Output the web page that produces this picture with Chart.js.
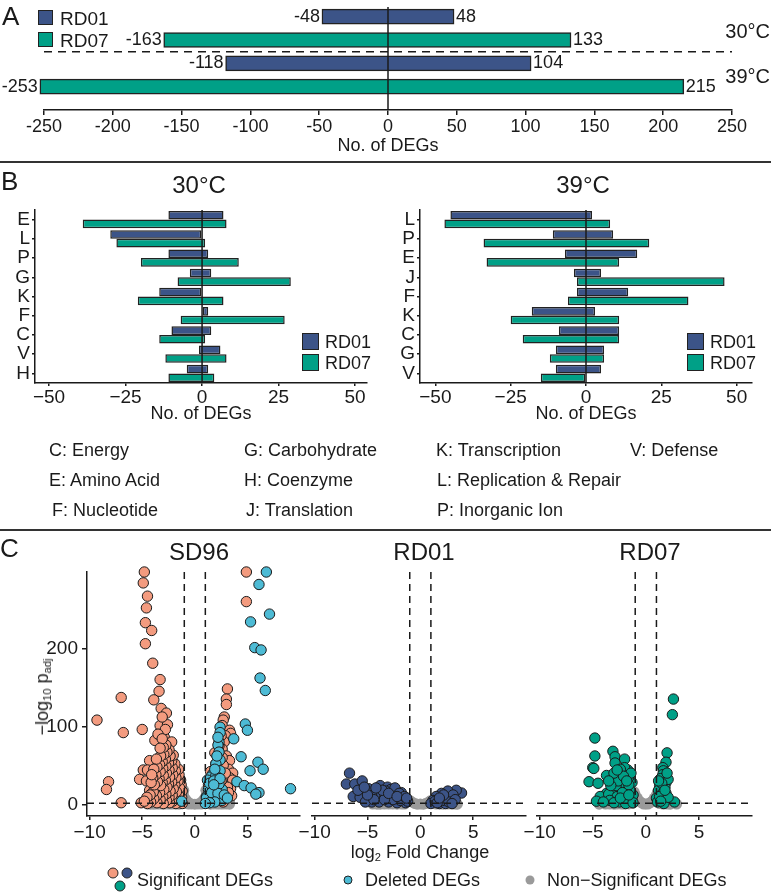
<!DOCTYPE html>
<html>
<head>
<meta charset="utf-8">
<script src="https://cdn.jsdelivr.net/npm/chart.js@4.4.1/dist/chart.umd.min.js"></script>
<style>
  body { margin: 0; background: #fff; }
  #fig { position: relative; width: 771px; height: 892px; overflow: hidden; font-family: "Liberation Sans", Arial, sans-serif; color: #1a1a1a; }
  #fig canvas { position: absolute; left: 0; top: 0; }
  .t { position: absolute; white-space: nowrap; line-height: 1; transform: translateY(-50%); }
  .c { transform: translate(-50%, -50%); }
  .rot { transform: translate(-50%, -50%) rotate(-90deg); }
  .sw { position: absolute; box-sizing: border-box; border: 1.5px solid #222; }
  .rule { position: absolute; left: 0; width: 771px; height: 2px; background: #333; }
  .dot { position: absolute; border-radius: 50%; box-sizing: border-box; transform: translate(-50%, -50%); }
  sub { font-size: 0.62em; vertical-align: -0.3em; line-height: 0; }
</style>
</head>
<body>
<div id="fig">
  <canvas id="cA" width="771" height="892"></canvas>
  <canvas id="cB30" width="771" height="892"></canvas>
  <canvas id="cB39" width="771" height="892"></canvas>
  <canvas id="cSD96" width="771" height="892"></canvas>
  <canvas id="cRD01" width="771" height="892"></canvas>
  <canvas id="cRD07" width="771" height="892"></canvas>

  <!-- panel letters and separators -->
  <div class="t" style="left:2px;top:16px;font-size:26px">A</div>
  <div class="t" style="left:1px;top:181px;font-size:26px">B</div>
  <div class="t" style="left:0px;top:548px;font-size:26px">C</div>
  <div class="rule" style="top:161px"></div>
  <div class="rule" style="top:529px"></div>

  <!-- panel A legend + temperature labels -->
  <div class="sw" style="left:38px;top:10px;width:15px;height:15px;background:#3C5488"></div>
  <div class="sw" style="left:38px;top:32px;width:15px;height:15px;background:#00A087"></div>
  <div class="t" style="left:60px;top:18px;font-size:19px">RD01</div>
  <div class="t" style="left:60px;top:40px;font-size:19px">RD07</div>
  <div class="t" style="right:1px;top:31px;font-size:20px">30°C</div>
  <div class="t" style="right:1px;top:76px;font-size:20px">39°C</div>

  <!-- panel B titles + legends -->
  <div class="t c" style="left:199px;top:185px;font-size:24px">30°C</div>
  <div class="t c" style="left:583px;top:185px;font-size:24px">39°C</div>
  <div class="sw" style="left:302px;top:333px;width:17px;height:17px;background:#3C5488"></div>
  <div class="sw" style="left:302px;top:354px;width:17px;height:17px;background:#00A087"></div>
  <div class="t" style="left:325px;top:342px;font-size:18px">RD01</div>
  <div class="t" style="left:325px;top:363px;font-size:18px">RD07</div>
  <div class="sw" style="left:687px;top:333px;width:17px;height:17px;background:#3C5488"></div>
  <div class="sw" style="left:687px;top:354px;width:17px;height:17px;background:#00A087"></div>
  <div class="t" style="left:710px;top:342px;font-size:18px">RD01</div>
  <div class="t" style="left:710px;top:363px;font-size:18px">RD07</div>

  <div class="t" style="left:49px;top:450px;font-size:18px">C: Energy</div>
  <div class="t" style="left:49px;top:480px;font-size:18px">E: Amino Acid</div>
  <div class="t" style="left:52px;top:510px;font-size:18px">F: Nucleotide</div>
  <div class="t" style="left:244px;top:450px;font-size:18px">G: Carbohydrate</div>
  <div class="t" style="left:244px;top:480px;font-size:18px">H: Coenzyme</div>
  <div class="t" style="left:246px;top:510px;font-size:18px">J: Translation</div>
  <div class="t" style="left:436px;top:450px;font-size:18px">K: Transcription</div>
  <div class="t" style="left:437px;top:480px;font-size:18px">L: Replication &amp; Repair</div>
  <div class="t" style="left:437px;top:510px;font-size:18px">P: Inorganic Ion</div>
  <div class="t" style="left:630px;top:450px;font-size:18px">V: Defense</div>

  <!-- panel C titles, axis titles, legend -->
  <div class="t c" style="left:199px;top:552px;font-size:24px">SD96</div>
  <div class="t c" style="left:424px;top:552px;font-size:24px">RD01</div>
  <div class="t c" style="left:650px;top:552px;font-size:24px">RD07</div>
  <div class="t rot" style="left:42px;top:697px;font-size:18px">&minus;log<sub>10</sub> p<sub>adj</sub></div>
  <div class="t c" style="left:420px;top:852px;font-size:18px">log<sub>2</sub> Fold Change</div>

  <div class="dot" style="left:113px;top:873px;width:11px;height:11px;background:#F39B7F;border:1px solid #222"></div>
  <div class="dot" style="left:127px;top:873px;width:11px;height:11px;background:#3C5488;border:1px solid #222"></div>
  <div class="dot" style="left:120px;top:886px;width:11px;height:11px;background:#00A087;border:1px solid #222"></div>
  <div class="t" style="left:137px;top:880px;font-size:18px">Significant DEGs</div>
  <div class="dot" style="left:348px;top:880px;width:9px;height:9px;background:#4DBBD5;border:1px solid #222"></div>
  <div class="t" style="left:365px;top:880px;font-size:18px">Deleted DEGs</div>
  <div class="dot" style="left:530px;top:880px;width:9px;height:9px;background:#9a9a9a"></div>
  <div class="t" style="left:547px;top:880px;font-size:18px">Non&minus;Significant DEGs</div>
</div>

<script>
const FONT = '"Liberation Sans", Arial, sans-serif';
const INK = '#1a1a1a';
const NAVY = '#3C5488', TEAL = '#00A087', SALMON = '#F39B7F', CYAN = '#4DBBD5', GREY = '#9a9a9a';

// --- PANEL A: total DEGs (down / up) ---
const aStrains = ['RD01', 'RD07'];
const aTemps = ['30°C', '39°C'];
const aDown30 = [-48, -163];
const aUp30 = [48, 133];
const aDown39 = [-118, -253];
const aUp39 = [104, 215];
const aTicks = [-250, -200, -150, -100, -50, 0, 50, 100, 150, 200, 250];

// --- PANEL B: COG categories ---
const cats30 = ['E', 'L', 'P', 'G', 'K', 'F', 'C', 'V', 'H'];
const rd01Down30 = [-11, -30, -11, -4, -14, 0, -10, -1, -5];
const rd01Up30 = [7, 0, 2, 3, 0, 2, 3, 6, 2];
const rd07Down30 = [-39, -28, -20, -8, -21, -7, -14, -12, -11];
const rd07Up30 = [8, 1, 12, 29, 7, 27, 1, 8, 4];

const cats39 = ['L', 'P', 'E', 'J', 'F', 'K', 'C', 'G', 'V'];
const rd01Down39 = [-45, -11, -7, -4, -3, -18, -9, -10, -10];
const rd01Up39 = [2, 9, 17, 5, 14, 3, 11, 6, 5];
const rd07Down39 = [-47, -34, -33, -3, -6, -25, -21, -12, -15];
const rd07Up39 = [8, 21, 11, 46, 34, 11, 11, 6, 0];
const bTicks = [-50, -25, 0, 25, 50];

// --- PANEL C: volcano plots [log2FC, -log10 padj] ---
const sd96Sig = [
  [-4.8,298],[-4.9,284],[-4.5,267],[-4.6,252],[-4.7,233],[-4.1,223],[-4.7,206],[-4.0,181],[-3.3,160],[-3.4,145],
  [-3.9,134],[-7.0,137],[-9.3,108],[-6.8,92],[-5.0,96],[-3.2,123],[-2.7,117],[-3.3,101],[-2.6,102],[-2.9,86],
  [-2.2,80],[-3.8,82],[-4.3,56],[-4.9,44],[-4.5,44],[-5.25,32],[-4.6,30],[-8.2,29],[-8.4,19],[-7.0,2],[-5.1,2],
  [-4.3,18],[-3.6,20],[-3.1,112],[-2.8,96],[-3.5,90],
  [-1.2,1],[-1.25,9],[-1.2,17],[-1.3,25],[-1.35,31],
  [-1.5,3],[-1.55,12],[-1.45,21],[-1.6,30],[-1.5,38],[-1.55,45],
  [-1.8,1],[-1.85,8],[-1.75,16],[-1.9,25],[-1.8,34],[-1.85,43],[-1.9,52],
  [-2.1,4],[-2.15,12],[-2.05,20],[-2.2,29],[-2.1,38],[-2.15,47],[-2.2,56],[-2.05,63],
  [-2.4,2],[-2.45,9],[-2.35,17],[-2.5,26],[-2.4,35],[-2.45,44],[-2.5,53],[-2.35,62],[-2.45,70],
  [-2.7,5],[-2.75,13],[-2.65,22],[-2.8,31],[-2.7,40],[-2.75,49],[-2.8,58],[-2.65,67],[-2.75,76],
  [-3.0,1],[-3.05,10],[-2.95,19],[-3.1,28],[-3.0,37],[-3.05,46],[-3.1,55],[-2.95,64],[-3.0,73],[-3.1,84],
  [-3.3,6],[-3.35,15],[-3.25,24],[-3.4,33],[-3.3,42],[-3.35,51],[-3.25,62],[-3.3,72],
  [-3.6,2],[-3.65,11],[-3.55,29],[-3.7,38],[-3.6,48],[-3.65,58],
  [-3.9,7],[-3.95,16],[-3.85,25],[-4.0,34],[-3.9,45],
  [-4.2,3],[-4.25,12],[-4.15,28],[-4.1,38],[-4.5,1],[-4.55,9],[-4.8,4],
  [4.9,298],[4.9,260],[3.1,148],[3.0,135],[3.0,128],[2.8,112],[2.7,108],[2.6,101],[3.3,95],[3.4,91],
  [2.9,88],[2.8,80],[2.6,71],[3.0,62],[3.3,56],[3.2,45],[3.6,40],[3.3,34],[3.6,31],[3.4,20],
  [3.5,11],[3.1,22],[2.9,8],[2.7,3],[2.5,88],[2.3,75],[2.5,30],[2.2,18],[1.9,66],[2.0,52],
  [1.5,42],[1.3,25],[1.7,35],[2.7,50],[2.9,40],[3.2,15],[2.6,60]
];
const sd96Del = [
  [6.8,298],[6.1,282],[7.1,244],[5.3,234],[5.7,201],[6.3,198],[6.2,162],[6.7,146],[4.8,103],[5.0,95],
  [3.7,84],[4.4,61],[6.0,54],[6.5,45],[5.25,43],[9.1,20],[4.0,29],[4.7,24],[5.35,21],[6.1,15],[5.8,13],
  [-1.25,4],
  [2.4,99],[2.4,92],[2.3,80],[2.2,76],[2.3,67],[2.4,57],[2.0,52],[2.4,43],[1.7,39],[1.5,35],
  [2.0,37],[1.2,31],[1.3,19],[1.5,11],[1.1,10],[2.0,10],[2.6,19],[1.7,22],[2.3,26],[1.2,5],
  [2.6,5],[1.1,8],[1.4,27],[1.8,30],[2.1,62],[1.9,45],[1.6,15],[2.2,14],[1.9,3],[1.4,2],
  [2.8,12],[2.4,33],[3.1,8],[1.0,1],[2.2,86],[1.8,25]
];
const sd96Ns = [
  [-1.1,13],[-1.0,9],[-0.85,6],[-0.7,3.5],[-0.5,1.5],[-0.3,0.5],[0,0.2],[0.3,0.5],[0.5,1.5],[0.7,3.5],
  [0.85,6],[1.0,9],[1.1,13],[-0.9,1],[0.9,1],[-1.3,1],[1.3,1],[-1.8,0.5],[-2.4,0.3],[-3.0,0.2],
  [-3.6,0.3],[-4.2,0.2],[1.8,0.5],[2.4,0.3],[3.0,0.5],[3.3,3],[-1.05,18],[1.05,18],
  [-0.6,0.3],[0.6,0.3],[-1.5,0.2],[1.5,0.2],[-2.1,0.4],[-2.7,0.3],[-3.3,0.4],[-3.9,0.2],[-4.5,0.4],
  [2.1,0.3],[2.7,0.4],[3.3,0.2]
];
const rd01Sig = [
  [-6.7,40],[-7.0,26],[-6.2,26],[-5.5,30],[-6.35,10],[-5.7,9],[-4.9,20],[-4.6,3],[-3.8,24],[-3.1,22],
  [-2.8,19],[-2.3,17],[-1.8,15],[-4.1,15],[-3.5,11],[-2.7,11],[-2.0,9],[-1.6,7],[-5.2,3],[-3.9,3],
  [-3.0,3],[-2.2,2],[-1.4,2],[-4.3,12],[-4.6,11],[-3.3,17],[-2.5,12],[-5.9,18],[-1.2,4],[-1.9,5],
  [-2.6,6],[-3.4,6],[-4.4,6],[-5.0,12],[-3.6,18],[-2.4,21],[-2.0,14],[-1.5,10],[-5.3,22],[-4.2,21],
  [-3.0,14],[-2.2,10],[-1.3,8],
  [3.9,14.5],[3.4,18],[2.6,17],[2.0,14],[1.5,10],[1.2,5],[2.3,8],[2.9,8],[1.8,1],[1.0,1],
  [2.4,1],[2.1,5],[1.4,4],[3.1,12],[2.7,3],[1.6,2],[3.3,6],[2.2,12],[1.8,8],[3.0,1]
];
const rd01Ns = [
  [-1.0,5],[-0.8,3],[-0.5,1],[0,0.3],[0.5,1],[0.8,3],[1.0,5],[-1.5,0.3],[-2.2,0.2],[-3.0,0.3],
  [-3.8,0.2],[-4.5,0.3],[1.5,0.3],[2.2,0.2],[3.0,0.3],[3.5,0.2],[-0.3,0.2],[0.3,0.2],
  [-1.8,0.4],[-2.6,0.3],[-3.4,0.4],[-4.1,0.2],[1.9,0.3],[2.6,0.4],[3.3,0.3]
];
const rd07Sig = [
  [2.6,135],[2.5,115],[-4.8,85],[-4.8,62],[-5.0,47],[-4.9,46],[-5.35,29],[-4.5,27],[-3.1,68],[-2.9,61],
  [-2.0,58],[-2.9,53],[-3.7,37],[-3.2,31],[-1.7,44],[-1.3,28],[-2.4,37],[-1.6,35],[-1.9,22],[-2.5,22],
  [-3.1,18],[-3.7,14],[-4.3,10],[-4.65,4],[-3.5,13],[-2.7,10],[-1.9,8],[-1.3,6],[-3.4,5],[-2.5,3],
  [-1.9,1],[-1.2,12],[-1.5,18],[-2.2,28],[-2.8,24],[-2.0,47],[-2.4,45],[-2.6,30],[-3.0,40],[-1.4,40],
  [-4.0,3],[-3.0,2],[-1.2,2],[-2.2,15],[-3.3,24],[-1.6,25],[-2.1,36],[-2.7,44],[-3.5,30],[-1.8,30],
  [-2.4,8],[-1.6,12],
  [2.0,66],[1.9,54],[1.6,47],[1.65,43],[1.6,38],[1.4,33],[1.3,24],[1.2,18],[1.5,13],[1.9,14],
  [1.0,8],[1.6,6],[2.7,3],[1.9,28],[1.8,22],[1.1,3],[2.1,32],[1.3,10],[1.7,1],[2.1,9],
  [1.5,27],[1.2,30],[2.0,40],[1.8,18],[1.4,4]
];
const rd07Ns = [
  [-1.1,16],[-1.0,12],[-0.8,8],[-0.6,4],[-0.4,2],[0,0.5],[0.4,2],[0.6,4],[0.8,8],[1.0,12],
  [1.1,16],[-1.6,0.5],[-2.3,0.3],[-3.0,0.2],[-3.8,0.3],[-4.4,0.2],[1.6,0.3],[2.3,0.2],[2.9,0.3],
  [-0.2,0.3],[0.2,0.3],[-1.3,1],[1.3,1],[-2.0,0.4],[-2.7,0.3],[-3.4,0.4],[2.0,0.4]
];
const cTicksX = [-10, -5, 0, 5];
const cTicksY = [0, 100, 200];

// --- HELPERS ---
const minus = v => String(v).replace('-', '\u2212');

// fix the size of an axis box so the plot area lands where we want it
function fit(size) {
  return s => {
    if (s.isHorizontal()) s.height = size; else s.width = size;
    s.paddingLeft = s.paddingRight = s.paddingTop = s.paddingBottom = 0;
  };
}
function pad(area, yW, xH) {
  return { left: area.left - yW, top: area.top, right: 771 - area.right, bottom: 892 - area.bottom - xH };
}
function linearAxis(o) {
  return {
    type: 'linear', min: o.min, max: o.max, display: o.display !== false, offset: false,
    afterBuildTicks: s => { if (o.ticks) s.ticks = o.ticks.map(v => ({ value: v })); },
    afterFit: fit(o.size || 0),
    border: { display: true, color: INK, width: 1.5 },
    grid: { drawOnChartArea: false, drawTicks: true, tickLength: o.tl, color: INK, lineWidth: 1.5 },
    ticks: { color: INK, font: { family: FONT, size: o.font || 19 }, padding: o.pad, autoSkip: false, maxRotation: 0, callback: o.fmt },
    title: o.title
      ? { display: true, text: o.title, color: INK, font: { family: FONT, size: 18 }, padding: { top: 0, bottom: 4 } }
      : { display: false }
  };
}
const base = {
  responsive: false, animation: false, events: [], devicePixelRatio: 1,
  plugins: { legend: { display: false }, tooltip: { enabled: false } }
};

// --- PANEL A ---
function aData(s) {
  const down = [aDown30, aDown39], up = [aUp30, aUp39];
  return aTemps.map((t, ti) => ({ y: ti * aStrains.length + s, x: [down[ti][s], up[ti][s]] }));
}
const aArea = { left: 44, right: 732, top: 5, bottom: 110 };
const aDecor = {
  id: 'aDecor',
  afterDatasetsDraw(chart) {
    const { ctx, chartArea, scales: { x, y } } = chart;
    ctx.save();
    ctx.strokeStyle = INK;
    ctx.lineWidth = 1.5;
    const x0 = x.getPixelForValue(0);
    ctx.beginPath(); ctx.moveTo(x0, chartArea.top + 2); ctx.lineTo(x0, chartArea.bottom); ctx.stroke();
    const yd = y.getPixelForValue(1.5);
    ctx.setLineDash([8, 6]);
    ctx.beginPath(); ctx.moveTo(chartArea.left, yd); ctx.lineTo(chartArea.right, yd); ctx.stroke();
    ctx.setLineDash([]);
    ctx.font = '18px ' + FONT;
    ctx.fillStyle = INK;
    ctx.textBaseline = 'middle';
    chart.data.datasets.forEach((ds, di) => {
      chart.getDatasetMeta(di).data.forEach((bar, i) => {
        const [lo, hi] = ds.data[i].x;
        ctx.textAlign = 'right';
        ctx.fillText(String(lo), x.getPixelForValue(lo) - 2, bar.y);
        ctx.textAlign = 'left';
        ctx.fillText(String(hi), x.getPixelForValue(hi) + 2, bar.y);
      });
    });
    ctx.restore();
  }
};
new Chart(document.getElementById('cA'), {
  type: 'bar',
  data: {
    datasets: aStrains.map((name, s) => ({
      label: name, data: aData(s), backgroundColor: [NAVY, TEAL][s],
      borderColor: '#222', borderWidth: 1.5, borderSkipped: false,
      barThickness: 15, grouped: false, clip: false
    }))
  },
  options: Object.assign({}, base, {
    indexAxis: 'y',
    layout: { padding: pad(aArea, 0, 51) },
    scales: {
      x: linearAxis({ min: -250, max: 250, ticks: aTicks, tl: 5, pad: 1, font: 18, size: 51, title: 'No. of DEGs', fmt: v => String(v) }),
      y: { type: 'linear', min: -0.5, max: 4, reverse: true, offset: false, display: false }
    }
  }),
  plugins: [aDecor]
});

// --- PANEL B ---
const zeroLine = {
  id: 'zeroLine',
  afterDatasetsDraw(chart) {
    const { ctx, chartArea, scales: { x } } = chart;
    const x0 = x.getPixelForValue(0);
    ctx.save();
    ctx.strokeStyle = INK; ctx.lineWidth = 1.5;
    ctx.beginPath(); ctx.moveTo(x0, chartArea.top); ctx.lineTo(x0, chartArea.bottom); ctx.stroke();
    ctx.restore();
  }
};
function cogChart(id, area, cats, d1, u1, d7, u7, min, max) {
  const pairs = (d, u) => d.map((v, i) => [v, u[i]]);
  const bar = { borderColor: '#222', borderWidth: 1.5, borderSkipped: false, categoryPercentage: 0.9, barPercentage: 1 };
  new Chart(document.getElementById(id), {
    type: 'bar',
    data: {
      labels: cats,
      datasets: [
        Object.assign({ label: 'RD01', data: pairs(d1, u1), backgroundColor: NAVY }, bar),
        Object.assign({ label: 'RD07', data: pairs(d7, u7), backgroundColor: TEAL }, bar)
      ]
    },
    options: Object.assign({}, base, {
      indexAxis: 'y',
      layout: { padding: pad(area, 30, 46) },
      scales: {
        x: linearAxis({ min, max, ticks: bTicks, tl: 3, pad: 0, size: 46, title: 'No. of DEGs', fmt: minus }),
        y: {
          type: 'category', afterFit: fit(30),
          border: { display: true, color: INK, width: 1.5 },
          grid: { offset: false, drawOnChartArea: false, drawTicks: true, tickLength: 3, color: INK, lineWidth: 1.5 },
          ticks: { color: INK, font: { family: FONT, size: 19 }, padding: 2, autoSkip: false }
        }
      }
    }),
    plugins: [zeroLine]
  });
}
cogChart('cB30', { left: 35, right: 367, top: 210, bottom: 383 }, cats30, rd01Down30, rd01Up30, rd07Down30, rd07Up30, -54.6, 53.9);
cogChart('cB39', { left: 420, right: 752, top: 210, bottom: 383 }, cats39, rd01Down39, rd01Up39, rd07Down39, rd07Up39, -55.1, 55.1);

// --- PANEL C ---
const cutoffs = {
  id: 'cutoffs',
  afterDatasetsDraw(chart) {
    const { ctx, chartArea, scales: { x, y } } = chart;
    ctx.save();
    ctx.strokeStyle = INK; ctx.lineWidth = 1.5;
    ctx.setLineDash([7, 5]);
    [-1, 1].forEach(v => {
      const px = x.getPixelForValue(v);
      ctx.beginPath(); ctx.moveTo(px, chartArea.top); ctx.lineTo(px, chartArea.bottom); ctx.stroke();
    });
    const py = y.getPixelForValue(1.3);
    ctx.beginPath(); ctx.moveTo(chartArea.left, py); ctx.lineTo(chartArea.right, py); ctx.stroke();
    ctx.restore();
  }
};
const pts = arr => arr.map(p => ({ x: p[0], y: p[1] }));
function volcano(id, area, sig, sigColor, del, ns, showY) {
  const dot = { pointRadius: 5.2, borderWidth: 1, borderColor: '#1a1a1a', clip: false };
  const datasets = [];
  if (del) datasets.push(Object.assign({ label: 'Deleted DEGs', data: pts(del), backgroundColor: CYAN }, dot));
  datasets.push(Object.assign({ label: 'Significant DEGs', data: pts(sig), backgroundColor: sigColor }, dot));
  datasets.push({ label: 'Non-Significant DEGs', data: pts(ns), backgroundColor: GREY, pointRadius: 5.5, borderWidth: 0, clip: false });
  const yW = showY ? 60 : 0;
  new Chart(document.getElementById(id), {
    type: 'scatter',
    data: { datasets },
    options: Object.assign({}, base, {
      layout: { padding: pad(area, yW, 30) },
      scales: {
        x: linearAxis({ min: -10.25, max: 10, ticks: cTicksX, tl: 4, pad: 1, size: 30, fmt: minus }),
        y: linearAxis({ min: -15, max: 298, ticks: cTicksY, tl: 5, pad: 4, size: yW, display: showY, fmt: v => String(v) })
      }
    }),
    plugins: [cutoffs]
  });
}
volcano('cSD96', { left: 87, right: 300, top: 572, bottom: 816 }, sd96Sig, SALMON, sd96Del, sd96Ns, true);
volcano('cRD01', { left: 312, right: 526, top: 572, bottom: 816 }, rd01Sig, NAVY, null, rd01Ns, false);
volcano('cRD07', { left: 537, right: 752, top: 572, bottom: 816 }, rd07Sig, TEAL, null, rd07Ns, false);
</script>
</body>
</html>
